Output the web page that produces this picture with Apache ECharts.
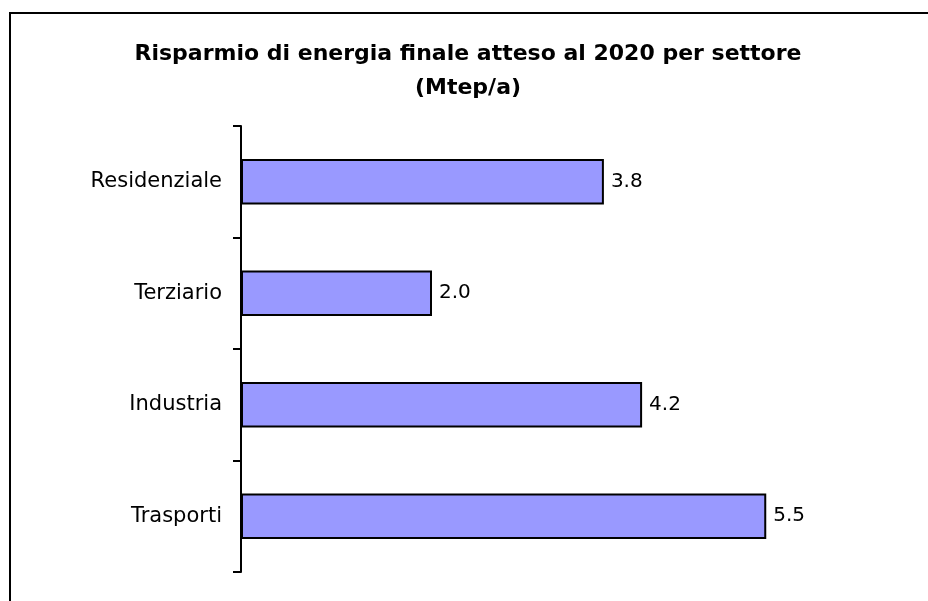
<!DOCTYPE html>
<html>
<head>
<meta charset="utf-8">
<script src="https://cdn.jsdelivr.net/npm/echarts@6/dist/echarts.min.js"></script>
<style>
  html, body { margin: 0; padding: 0; background: #fff; }
  #chart { width: 928px; height: 601px; }
</style>
</head>
<body>
<div id="chart"></div>
<script>
// categories, top to bottom as shown
const categories = ['Residenziale', 'Terziario', 'Industria', 'Trasporti']
const values = [3.8, 2.0, 4.2, 5.5]

const FONT = 'DejaVu Sans, Liberation Sans, Arial, sans-serif'

const chart = echarts.init(document.getElementById('chart'))

const option = {
  animation: false,
  backgroundColor: '#fff',
  title: {
    text: 'Risparmio di energia finale atteso al 2020 per settore\n(Mtep/a)',
    left: 463,
    textAlign: 'center',
    top: 32,
    textStyle: {
      fontFamily: FONT,
      fontSize: 22,
      fontWeight: 'bold',
      color: '#000',
      lineHeight: 34
    }
  },
  graphic: [
    {
      type: 'rect',
      shape: { x: 10, y: 13, width: 960, height: 640 },
      style: { fill: 'none', stroke: '#000', lineWidth: 2 },
      silent: true
    }
  ],
  grid: {
    left: 241,
    top: 126,
    width: 573,
    height: 446,
    containLabel: false
  },
  xAxis: {
    type: 'value',
    min: 0,
    max: 6,
    show: false
  },
  yAxis: {
    type: 'category',
    inverse: true,
    data: categories,
    axisLine: { show: true, lineStyle: { color: '#000', width: 2 } },
    axisTick: { show: true, length: 8, lineStyle: { color: '#000', width: 2 } },
    axisLabel: {
      margin: 19,
      color: '#000',
      fontSize: 21,
      fontFamily: FONT
    },
    splitLine: { show: false }
  },
  series: [
    {
      type: 'bar',
      data: values,
      barWidth: '41%',
      itemStyle: {
        color: '#9999FF',
        borderColor: '#000',
        borderWidth: 2
      },
      label: {
        show: true,
        position: 'right',
        distance: 7,
        color: '#000',
        fontSize: 20,
        fontFamily: FONT,
        formatter: (p) => p.value.toFixed(1)
      }
    }
  ]
}

chart.setOption(option)
</script>
</body>
</html>
